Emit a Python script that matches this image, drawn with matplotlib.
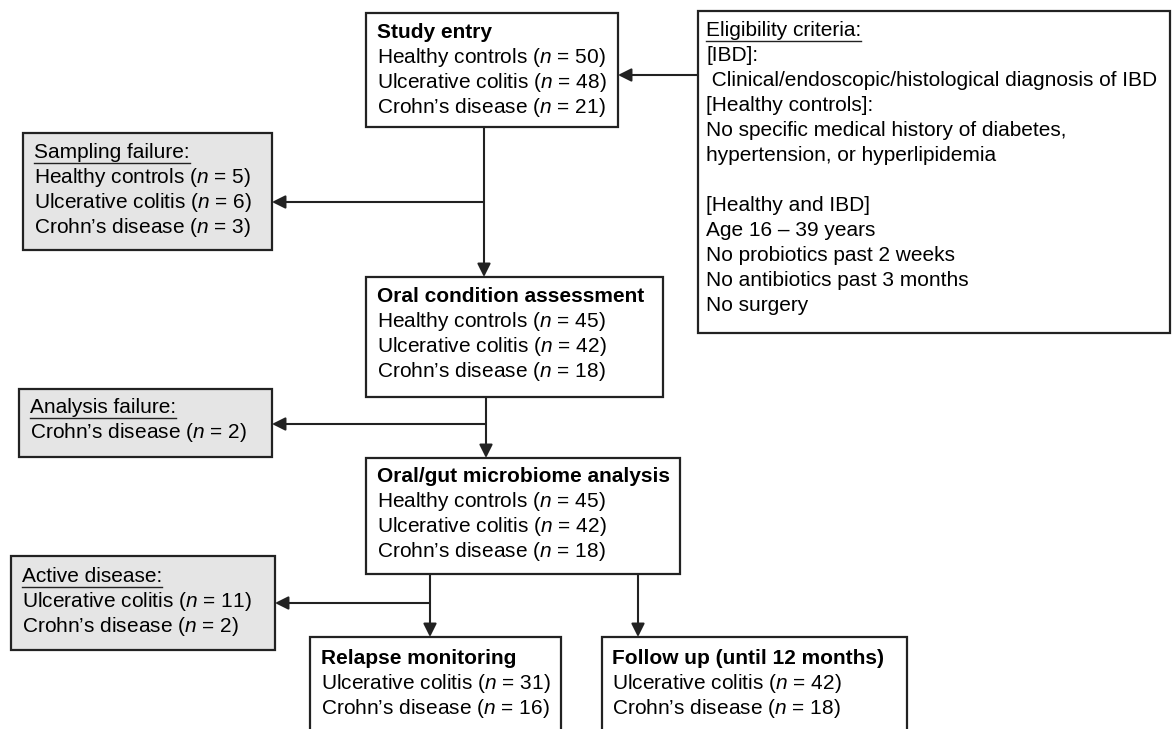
import matplotlib.pyplot as plt
from matplotlib.patches import Rectangle

plt.rcParams["font.family"] = ["Liberation Sans", "DejaVu Sans"]
plt.rcParams["mathtext.fontset"] = "custom"
plt.rcParams["mathtext.rm"] = "Liberation Sans"
plt.rcParams["mathtext.it"] = "Liberation Sans:italic"

groups = ["Healthy controls", "Ulcerative colitis", "Crohn\u2019s disease"]
entry_n = [50, 48, 21]
sampling_fail_n = [5, 6, 3]
oral_n = [45, 42, 18]
analysis_fail_n = [2]  # Crohn's only
microbiome_n = [45, 42, 18]
active_n = [11, 2]  # UC, CD
relapse_n = [31, 16]
followup_n = [42, 18]

eligibility = [
    "[IBD]:",
    " Clinical/endoscopic/histological diagnosis of IBD",
    "[Healthy controls]:",
    "No specific medical history of diabetes,",
    "hypertension, or hyperlipidemia",
    "",
    "[Healthy and IBD]",
    "Age 16 \u2013 39 years",
    "No probiotics past 2 weeks",
    "No antibiotics past 3 months",
    "No surgery",
]

FS = 15
LINE = 25
GRAY = "#e5e5e5"

fig = plt.figure(figsize=(11.72, 7.29), dpi=100)
ax = fig.add_axes([0, 0, 1, 1])
ax.set_xlim(0, 1172)
ax.set_ylim(729, 0)
ax.axis("off")

underlined = []


def rows(names, counts):
    return [f"{g} ($n$ = {c})" for g, c in zip(names, counts)]


def box(x0, x1, y0, y1, title, lines, fill="white", underline=False, pad=11, first=20):
    ax.add_patch(Rectangle((x0, y0), x1 - x0, y1 - y0, facecolor=fill,
                           edgecolor="#222222", lw=1.6, zorder=1))
    # text placed on baselines, ~5 px below the visual line centre
    y = y0 + first + 5
    if title is not None:
        t = ax.text(x0 + pad, y, title, fontsize=FS, va="baseline", ha="left",
                    fontweight="normal" if underline else "bold", zorder=3)
        if underline:
            underlined.append((t, y))
        y += LINE
    for s in lines:
        ax.text(x0 + pad, y, s, fontsize=FS, va="baseline", ha="left", zorder=3)
        y += LINE


def arrow(x0, y0, x1, y1):
    ax.annotate("", xy=(x1, y1), xytext=(x0, y0),
                arrowprops=dict(arrowstyle="-|>", color="#222222", lw=1.5,
                                mutation_scale=20, shrinkA=0, shrinkB=0),
                zorder=2)


# boxes
box(366, 618, 13, 127, "Study entry", rows(groups, entry_n))
box(698, 1170, 11, 333, "Eligibility criteria:", eligibility, underline=True, pad=8)
box(23, 272, 133, 250, "Sampling failure:", rows(groups, sampling_fail_n),
    fill=GRAY, underline=True)
box(366, 663, 277, 397, "Oral condition assessment", rows(groups, oral_n))
box(19, 272, 389, 457, "Analysis failure:", rows(groups[2:], analysis_fail_n),
    fill=GRAY, underline=True, first=19)
box(366, 680, 458, 574, "Oral/gut microbiome analysis", rows(groups, microbiome_n),
    first=19)
box(11, 275, 556, 650, "Active disease:", rows(groups[1:], active_n),
    fill=GRAY, underline=True, first=21)
box(310, 561, 637, 740, "Relapse monitoring", rows(groups[1:], relapse_n), first=22)
box(602, 907, 637, 740, "Follow up (until 12 months)", rows(groups[1:], followup_n),
    pad=10, first=22)

# connectors
arrow(698, 75, 618, 75)
arrow(484, 127, 484, 277)
arrow(484, 202, 272, 202)
arrow(486, 397, 486, 458)
arrow(486, 424, 272, 424)
arrow(430, 574, 430, 637)
arrow(430, 603, 275, 603)
arrow(638, 574, 638, 637)

# underline headers of the side boxes
fig.canvas.draw()
inv = ax.transData.inverted()
for t, y in underlined:
    bb = t.get_window_extent()
    (xa, _), (xb, _) = inv.transform([[bb.x0, bb.y0], [bb.x1, bb.y1]])
    ax.plot([xa, xb], [y + 5, y + 5], color="#222222", lw=1.0, zorder=3)

fig.savefig("out.png", dpi=100)
